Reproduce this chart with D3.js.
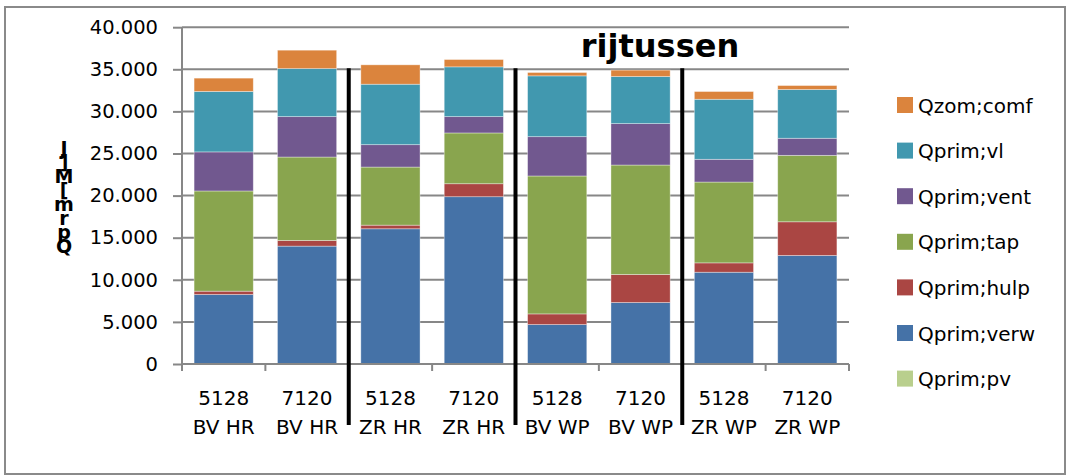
<!DOCTYPE html>
<html>
<head>
<meta charset="utf-8">
<script src="https://cdn.jsdelivr.net/npm/d3@7"></script>
<style>
  html, body { margin: 0; padding: 0; background: #fff; }
  svg { display: block; font-family: "DejaVu Sans", sans-serif; }
  .ylab { writing-mode: vertical-rl; text-orientation: upright; }
</style>
</head>
<body>
<svg id="chart" width="1067" height="476"></svg>
<script>
// ---- data ----
const categories = ["5128|BV HR", "7120|BV HR", "5128|ZR HR", "7120|ZR HR",
                    "5128|BV WP", "7120|BV WP", "5128|ZR WP", "7120|ZR WP"];
const seriesNames = ["Qprim;pv", "Qprim;verw", "Qprim;hulp", "Qprim;tap", "Qprim;vent", "Qprim;vl", "Qzom;comf"];
const pv   = [0, 0, 0, 0, 0, 0, 0, 0];
const verw = [8250, 14000, 16060, 19870, 4680, 7300, 10900, 12890];
const hulp = [400, 670, 430, 1540, 1270, 3330, 1110, 4000];
const tap  = [11900, 9910, 6900, 6030, 16380, 13000, 9600, 7890];
const vent = [4640, 4800, 2660, 1940, 4670, 4920, 2700, 2030];
const vl   = [7180, 5710, 7180, 5910, 7220, 5590, 7130, 5790];
const comf = [1580, 2180, 2300, 870, 400, 760, 920, 470];
const yTicks = [0, 5000, 10000, 15000, 20000, 25000, 30000, 35000, 40000];
const separatorsAfter = [2, 4, 6];
const title = "rijtussen";
const yLabel = "J]M[mrpQ";

const colors = {
  "Qprim;pv": "#B9CF8D", "Qprim;verw": "#4572A7", "Qprim;hulp": "#AA4643",
  "Qprim;tap": "#89A54E", "Qprim;vent": "#71588F", "Qprim;vl": "#4198AF", "Qzom;comf": "#DB843D"
};
const seriesValues = [pv, verw, hulp, tap, vent, vl, comf];

const rows = categories.map((c, i) => {
  const r = { cat: c };
  seriesNames.forEach((s, k) => r[s] = seriesValues[k][i]);
  return r;
});

// ---- layout ----
const svg = d3.select("#chart");
svg.append("rect").attr("x", 5).attr("y", 7).attr("width", 1060).attr("height", 467)
  .attr("fill", "#fff").attr("stroke", "#8a8a8a").attr("stroke-width", 2);

const x = d3.scaleBand().domain(categories).range([182, 849]).paddingInner(0.29).paddingOuter(0.145);
const y = d3.scaleLinear().domain([0, 40000]).range([364, 27.2]);
const step = x.step();
const x0 = 182;

// gridlines
svg.append("g").selectAll("line").data(yTicks.filter(t => t > 0)).join("line")
  .attr("x1", x0).attr("x2", 849).attr("y1", d => y(d)).attr("y2", d => y(d))
  .attr("stroke", "#878787").attr("stroke-width", 2);

// y axis
const yAxis = svg.append("g").attr("transform", `translate(${x0},0)`)
  .call(d3.axisLeft(y).tickValues(yTicks).tickSize(9).tickPadding(15)
    .tickFormat(d => d3.format(",")(d).replace(/,/g, ".")));
yAxis.select(".domain").attr("stroke", "#878787").attr("stroke-width", 2).attr("d", `M0,${y(40000)}V${y(0)}`);
yAxis.selectAll(".tick line").attr("stroke", "#878787").attr("stroke-width", 2);
yAxis.selectAll(".tick text").attr("font-size", 19.5).attr("fill", "#000")
  .attr("font-family", "DejaVu Sans, sans-serif");

// stacked bars
const stack = d3.stack().keys(seriesNames)(rows);
svg.append("g").selectAll("g").data(stack).join("g")
  .attr("fill", d => colors[d.key])
  .selectAll("rect").data(d => d).join("rect")
  .attr("x", d => x(d.data.cat)).attr("width", x.bandwidth())
  .attr("y", d => y(d[1])).attr("height", d => Math.max(0, y(d[0]) - y(d[1])))
  .attr("stroke", "rgba(255,255,255,0.45)").attr("stroke-width", 0.8);

// x axis
const xAxisG = svg.append("g").attr("transform", `translate(0,${y(0)})`);
xAxisG.append("line").attr("x1", x0).attr("x2", 849).attr("y1", 0).attr("y2", 0)
  .attr("stroke", "#878787").attr("stroke-width", 2);
const boundaries = d3.range(categories.length + 1).map(i => x0 + i * step);
xAxisG.selectAll("line.tk").data(boundaries).join("line").attr("class", "tk")
  .attr("x1", d => d).attr("x2", d => d).attr("y1", 0).attr("y2", 7)
  .attr("stroke", "#878787").attr("stroke-width", 2);
const xl = svg.append("g").selectAll("text").data(categories).join("text")
  .attr("text-anchor", "middle").attr("font-size", 20).attr("fill", "#000");
xl.append("tspan").attr("x", d => x(d) + x.bandwidth() / 2).attr("y", 405).text(d => d.split("|")[0]);
xl.append("tspan").attr("x", d => x(d) + x.bandwidth() / 2).attr("y", 434).text(d => d.split("|")[1]);

// separators
svg.append("g").selectAll("line").data(separatorsAfter).join("line")
  .attr("x1", d => x0 + d * step).attr("x2", d => x0 + d * step)
  .attr("y1", y(35000) - 1).attr("y2", 425)
  .attr("stroke", "#000").attr("stroke-width", 4);

// title
svg.append("text").attr("x", 660).attr("y", 57).attr("text-anchor", "middle")
  .attr("font-size", 32).attr("font-weight", "bold").attr("fill", "#000").text(title);

// y-axis label: upright stacked glyphs in a single vertical text
svg.append("text").attr("class", "ylab").attr("x", 64).attr("y", 137)
  .attr("font-size", 19).attr("font-weight", "bold").attr("letter-spacing", -8)
  .attr("fill", "#000").text(yLabel);

// legend
const legendOrder = seriesNames.slice().reverse();
const lg = svg.append("g").selectAll("g").data(legendOrder).join("g")
  .attr("transform", (d, i) => `translate(897,${105 + i * 45.6})`);
lg.append("rect").attr("x", 0).attr("y", -8).attr("width", 16).attr("height", 16).attr("fill", d => colors[d]);
lg.append("text").attr("x", 21).attr("y", 7.5).attr("font-size", 20).attr("fill", "#000").text(d => d);
</script>
</body>
</html>
